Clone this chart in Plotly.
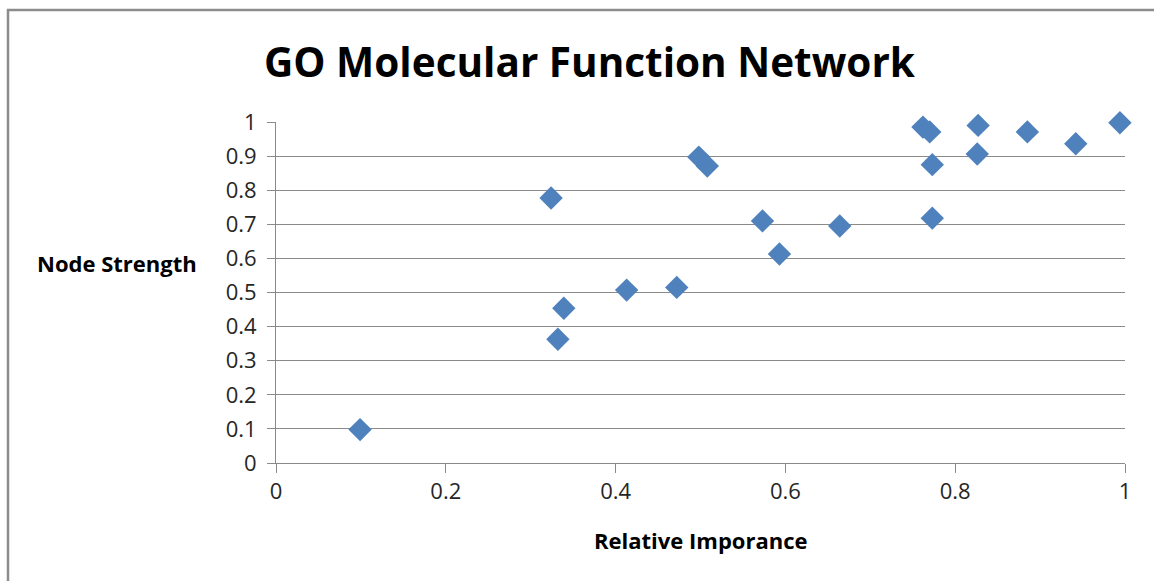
import plotly.graph_objects as go

# Relative importance vs node strength for the GO molecular function network
relative_importance = [0.099, 0.324, 0.332, 0.339, 0.413, 0.472, 0.498, 0.508, 0.573, 0.593,
                       0.664, 0.762, 0.770, 0.773, 0.773, 0.826, 0.827, 0.885, 0.942, 0.994]
node_strength = [0.098, 0.777, 0.363, 0.454, 0.507, 0.515, 0.897, 0.871, 0.710, 0.613,
                 0.695, 0.985, 0.971, 0.875, 0.718, 0.906, 0.990, 0.971, 0.936, 0.998]

x_ticks = [0, 0.2, 0.4, 0.6, 0.8, 1]
y_ticks = [0, 0.1, 0.2, 0.3, 0.4, 0.5, 0.6, 0.7, 0.8, 0.9, 1]

W, H = 1154, 581
ML, MR, MT, MB = 276, 29, 122, 118
PW, PH = W - ML - MR, H - MT - MB

def px_x(p):
    return (p - ML) / PW

def px_y(p):
    return (H - MB - p) / PH

FONT = "Open Sans, Lato, sans-serif"
GRID = "#8a8a8a"

fig = go.Figure(go.Scatter(
    x=relative_importance, y=node_strength, mode="markers",
    marker=dict(symbol="diamond", size=18, color="#4F81BD", line=dict(width=0)),
    cliponaxis=False, showlegend=False,
))

fig.update_layout(
    width=W, height=H, margin=dict(l=ML, r=MR, t=MT, b=MB, autoexpand=False),
    paper_bgcolor="white", plot_bgcolor="white",
    font=dict(family=FONT, color="#222222"),
    xaxis=dict(range=[0, 1], tickvals=x_ticks, ticktext=[f"{v:g}" for v in x_ticks],
               showgrid=False, zeroline=False, showline=True, linecolor=GRID, linewidth=1,
               ticks="outside", ticklen=9, tickcolor=GRID, tickfont=dict(size=22, color="#262626"),
               fixedrange=True),
    yaxis=dict(range=[0, 1], tickvals=y_ticks, ticktext=[f"{v:g}" for v in y_ticks],
               showgrid=True, gridcolor=GRID, gridwidth=1, zeroline=False,
               showline=True, linecolor=GRID, linewidth=1,
               ticks="outside", ticklen=8, tickcolor=GRID, tickfont=dict(size=22, color="#262626"),
               ticklabelstandoff=6, fixedrange=True),
    annotations=[
        dict(text="<b>GO Molecular Function Network</b>", xref="paper", yref="paper",
             x=px_x(590), y=px_y(62), xanchor="center", yanchor="middle", showarrow=False,
             font=dict(size=40.5, color="black", family=FONT)),
        dict(text="<b>Node Strength</b>", xref="paper", yref="paper",
             x=px_x(117), y=px_y(263), xanchor="center", yanchor="middle", showarrow=False,
             font=dict(size=22, color="black", family=FONT)),
        dict(text="<b>Relative Imporance</b>", xref="paper", yref="paper",
             x=px_x(701), y=px_y(540), xanchor="center", yanchor="middle", showarrow=False,
             font=dict(size=22, color="black", family=FONT)),
    ],
    shapes=[
        # chart frame: left and top edges
        dict(type="line", xref="paper", yref="paper", x0=px_x(8), x1=px_x(8),
             y0=px_y(9), y1=px_y(H + 5), line=dict(color="#8c8c8c", width=2.5)),
        dict(type="line", xref="paper", yref="paper", x0=px_x(7), x1=px_x(W + 5),
             y0=px_y(10), y1=px_y(10), line=dict(color="#8c8c8c", width=2.5)),
    ],
)

fig.write_html("out.html")
